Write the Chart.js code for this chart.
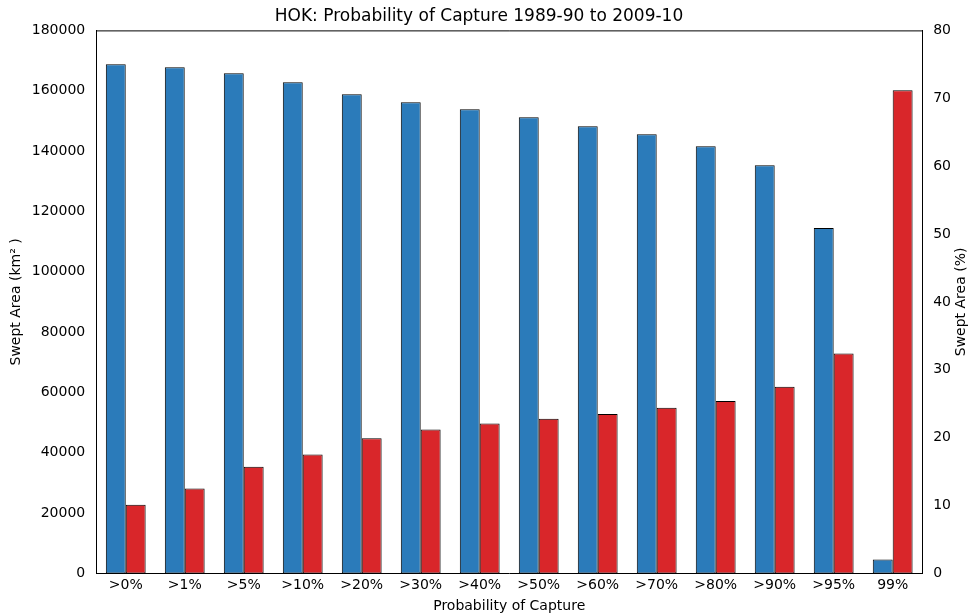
<!DOCTYPE html>
<html><head><meta charset="utf-8">
<script src="https://cdn.jsdelivr.net/npm/chart.js@4"></script>
<style>html,body{margin:0;background:#fff}#wrap{width:970px;height:615px}</style>
</head><body><div id="wrap"><canvas id="c"></canvas></div>
<script>
const CATEGORIES = ['>0%','>1%','>5%','>10%','>20%','>30%','>40%','>50%','>60%','>70%','>80%','>90%','>95%','99%'];
const AREA_KM2 = [168750,167750,165800,162800,158800,156200,153900,151200,148200,145600,141600,135300,114500,4600];
const AREA_PCT = [10.1,12.5,15.7,17.5,19.9,21.2,22.1,22.8,23.5,24.4,25.4,27.5,32.4,71.2];
const LEFT_TICKS = [0,20000,40000,60000,80000,100000,120000,140000,160000,180000];

Chart.defaults.font.family = "'DejaVu Sans', sans-serif";
Chart.defaults.color = '#000';

const tickStyle = { color: '#000', font: { size: 14 } };
new Chart(document.getElementById('c'), {
  type: 'bar',
  data: {
    labels: CATEGORIES,
    datasets: [
      { data: AREA_KM2, backgroundColor: '#2b7bba', borderColor: '#000', borderWidth: 1, borderSkipped: false, yAxisID: 'y' },
      { data: AREA_PCT, backgroundColor: '#d9262a', borderColor: '#000', borderWidth: 1, borderSkipped: false, yAxisID: 'y1' },
    ],
  },
  options: {
    responsive: true,
    maintainAspectRatio: false,
    animation: false,
    layout: { padding: { left: 4, right: 16, top: 0, bottom: 0 } },
    datasets: { bar: { categoryPercentage: 0.675, barPercentage: 1 } },
    plugins: {
      legend: { display: false },
      tooltip: { enabled: false },
      title: { display: true, text: 'HOK: Probability of Capture 1989-90 to 2009-10', color: '#000', font: { size: 17, weight: 'normal' }, padding: { top: 6, bottom: 4 } },
    },
    scales: {
      x: {
        grid: { display: false, drawTicks: false },
        border: { color: '#000', width: 1 },
        ticks: { ...tickStyle, padding: 4 },
        title: { display: true, text: 'Probability of Capture', color: '#000', font: { size: 14 }, padding: 0 },
      },
      y: {
        position: 'left', min: 0, max: 180000,
        afterBuildTicks: s => { s.ticks = LEFT_TICKS.map(v => ({ value: v })); },
        grid: { display: false },
        border: { color: '#000', width: 1 },
        ticks: { ...tickStyle, callback: v => v },
        title: { display: true, text: 'Swept Area (km² )', color: '#000', font: { size: 14 } },
      },
      y1: {
        position: 'right', min: 0, max: 80,
        ticks: { ...tickStyle, stepSize: 10 },
        grid: { display: false },
        border: { color: '#000', width: 1 },
      },
    },
  },
  plugins: [{
    id: 'extras',
    afterDraw(chart) {
      const { ctx, chartArea: a } = chart;
      ctx.save(); ctx.strokeStyle = '#000'; ctx.lineWidth = 1;
      ctx.beginPath(); ctx.moveTo(a.left, a.top + 0.5); ctx.lineTo(a.right, a.top + 0.5); ctx.stroke();
      ctx.translate(chart.width - 2, (a.top + a.bottom) / 2);
      ctx.rotate(-Math.PI / 2);
      ctx.fillStyle = '#000'; ctx.font = "14px 'DejaVu Sans', sans-serif";
      ctx.textAlign = 'center'; ctx.textBaseline = 'bottom';
      ctx.fillText('Swept Area (%)', 0, 0);
      ctx.restore();
    },
  }],
});
</script></body></html>
